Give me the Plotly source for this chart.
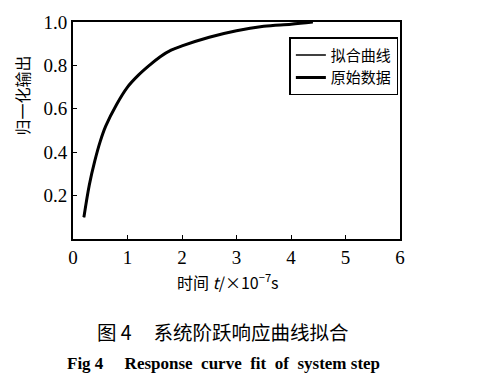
import plotly.graph_objects as go

t_fit = [0.2, 0.3, 0.4, 0.5, 0.6, 0.8, 1.0, 1.2, 1.4, 1.6, 1.8, 2.0, 2.5, 3.0, 3.5, 4.0, 4.4]
y_fit = [0.10, 0.25, 0.36, 0.45, 0.52, 0.62, 0.70, 0.755, 0.80, 0.84, 0.87, 0.89, 0.93, 0.96, 0.98, 0.99, 1.0]
t_raw = [0.2, 0.3, 0.4, 0.5, 0.6, 0.8, 1.0, 1.2, 1.4, 1.6, 1.8, 2.0, 2.5, 3.0, 3.5, 4.0, 4.4]
y_raw = [0.10, 0.25, 0.36, 0.45, 0.52, 0.62, 0.70, 0.755, 0.80, 0.84, 0.87, 0.89, 0.93, 0.96, 0.98, 0.99, 1.0]
x_ticks = [0, 1, 2, 3, 4, 5, 6]
y_ticks = [0.2, 0.4, 0.6, 0.8, 1.0]
y_tick_text = ["0.2", "0.4", "0.6", "0.8", "1.0"]

serif = "Liberation Serif"
cjk = "Noto Sans CJK SC"

fig = go.Figure()
fig.add_trace(go.Scatter(x=t_fit, y=y_fit, mode="lines", name="拟合曲线",
                         line=dict(color="black", width=1.5, shape="spline")))
fig.add_trace(go.Scatter(x=t_raw, y=y_raw, mode="lines", name="原始数据",
                         line=dict(color="black", width=3, shape="spline")))

axis_common = dict(showline=True, linecolor="black", linewidth=2, mirror=True,
                   ticks="inside", ticklen=4, tickcolor="black", showgrid=False,
                   zeroline=False, tickfont=dict(family=serif, size=19, color="black"))

fig.update_layout(
    width=481, height=378,
    margin=dict(l=73, r=81, t=17, b=139),
    plot_bgcolor="white", paper_bgcolor="white",
    xaxis=dict(range=[0, 6], tickvals=x_ticks, **axis_common),
    yaxis=dict(range=[0, 1.0], tickvals=y_ticks, ticktext=y_tick_text, **axis_common),
    legend=dict(x=0.995, y=0.93, xanchor="right", yanchor="top",
                bordercolor="black", borderwidth=1.5, bgcolor="white",
                font=dict(family=cjk, size=15, color="black"),
                tracegroupgap=0, itemwidth=30),
    showlegend=True,
)

fig.add_annotation(text="归一化输出", xref="paper", yref="paper", x=-0.2, y=0.66,
                   textangle=-90, showarrow=False,
                   font=dict(family=cjk, size=16, color="black"))
fig.add_annotation(text="时间 <i>t</i>/×10<sup>−7</sup>s", xref="paper", yref="paper",
                   x=0.475, y=-0.13, yanchor="top", showarrow=False,
                   font=dict(family=cjk, size=16, color="black"))
fig.add_annotation(text="图 4&nbsp;&nbsp;&nbsp;&nbsp;&nbsp;系统阶跃响应曲线拟合", xref="paper", yref="paper",
                   x=0.46, y=-0.35, yanchor="top", showarrow=False,
                   font=dict(family=cjk, size=19.5, color="black"))
fig.add_annotation(text="<b>Fig 4&nbsp;&nbsp;&nbsp;&nbsp;&nbsp;Response&nbsp; curve&nbsp; fit&nbsp; of&nbsp; system step</b>",
                   xref="paper", yref="paper",
                   x=0.46, y=-0.52, yanchor="top", showarrow=False,
                   font=dict(family=serif, size=17, color="black"))

fig.write_html("out.html")
